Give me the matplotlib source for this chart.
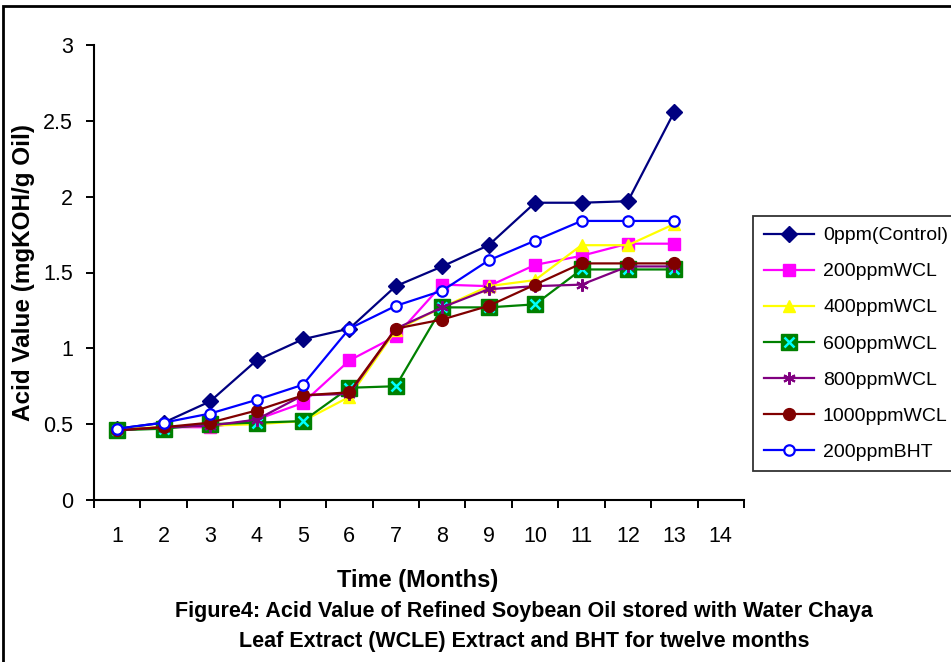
import matplotlib
matplotlib.use("Agg")
import matplotlib.pyplot as plt
from matplotlib.legend_handler import HandlerTuple
from matplotlib.patches import Rectangle

plt.rcParams['font.family'] = ['Liberation Sans', 'DejaVu Sans']

months = [1, 2, 3, 4, 5, 6, 7, 8, 9, 10, 11, 12, 13]
tick_labels = [str(i) for i in range(1, 15)]

ctrl_0ppm = [0.47, 0.51, 0.65, 0.92, 1.06, 1.13, 1.41, 1.54, 1.68, 1.96, 1.96, 1.97, 2.56]
wcl_200 = [0.46, 0.48, 0.48, 0.53, 0.64, 0.92, 1.08, 1.42, 1.41, 1.55, 1.61, 1.69, 1.69]
wcl_400 = [0.47, 0.48, 0.49, 0.50, 0.52, 0.68, 1.12, 1.27, 1.41, 1.45, 1.68, 1.68, 1.82]
wcl_600 = [0.46, 0.47, 0.50, 0.51, 0.52, 0.74, 0.75, 1.27, 1.27, 1.29, 1.52, 1.52, 1.52]
wcl_800 = [0.46, 0.48, 0.49, 0.53, 0.69, 0.70, 1.13, 1.27, 1.39, 1.41, 1.42, 1.54, 1.54]
wcl_1000 = [0.46, 0.48, 0.51, 0.59, 0.69, 0.71, 1.13, 1.19, 1.28, 1.42, 1.56, 1.56, 1.56]
bht_200 = [0.47, 0.51, 0.57, 0.66, 0.76, 1.13, 1.28, 1.38, 1.58, 1.71, 1.84, 1.84, 1.84]

series_names = ['0ppm(Control)', '200ppmWCL', '400ppmWCL', '600ppmWCL',
                '800ppmWCL', '1000ppmWCL', '200ppmBHT']

fig = plt.figure(figsize=(9.51, 6.62), dpi=100)
ax = fig.add_axes([94/951, 1 - 500/662, 650/951, 455/662])

lw = 1.6
handles = []
h, = ax.plot(months, ctrl_0ppm, color='#000080', lw=lw, marker='D', ms=8,
             mfc='#000080', mec='#000080', zorder=3)
handles.append(h)
h, = ax.plot(months, wcl_200, color='#FF00FF', lw=lw, marker='s', ms=8,
             mfc='#FF00FF', mec='#FF00FF', zorder=3)
handles.append(h)
h, = ax.plot(months, wcl_400, color='#FFFF00', lw=lw, marker='^', ms=9,
             mfc='#FFFF00', mec='#FFFF00', zorder=3)
handles.append(h)
h1, = ax.plot(months, wcl_600, color='#008000', lw=lw, marker='s', ms=11.5,
              mfc='#008000', mec='#008000', zorder=3)
h2, = ax.plot(months, wcl_600, ls='none', marker='x', ms=7, mew=1.8,
              color='#00FFFF', zorder=3)
handles.append((h1, h2))
h, = ax.plot(months, wcl_800, color='#800080', lw=lw, marker=(6, 2, 0), ms=9,
             mew=1.5, mec='#800080', zorder=3)
handles.append(h)
h, = ax.plot(months, wcl_1000, color='#800000', lw=lw, marker='o', ms=8.5,
             mfc='#800000', mec='#800000', zorder=3)
handles.append(h)
h, = ax.plot(months, bht_200, color='#0000FF', lw=lw, marker='o', ms=7.5,
             mfc='white', mec='#0000FF', mew=1.6, zorder=3)
handles.append(h)

ax.set_xlim(0.5, 14.5)
ax.set_ylim(0, 3)
ax.set_yticks([0, 0.5, 1, 1.5, 2, 2.5, 3])
ax.set_yticklabels(['0', '0.5', '1', '1.5', '2', '2.5', '3'])
ax.set_xticks(range(1, 15))
ax.set_xticklabels(tick_labels)
ax.set_xticks([i + 0.5 for i in range(0, 15)], minor=True)
ax.tick_params(axis='x', which='major', length=0, pad=19, labelsize=15.5)
ax.tick_params(axis='x', which='minor', length=6, width=1.4, direction='out')
ax.tick_params(axis='y', which='major', length=6, width=1.4, direction='out',
               pad=9, labelsize=15.5)
for s in ['top', 'right']:
    ax.spines[s].set_visible(False)
for s in ['left', 'bottom']:
    ax.spines[s].set_linewidth(1.5)

fig.text(24/951, 1 - 273/662, 'Acid Value (mgKOH/g Oil)', rotation=90,
         fontsize=17.5, fontweight='bold', ha='center', va='center')

fig.text(418/951, 1 - 580/662, 'Time (Months)', fontsize=17,
         fontweight='bold', ha='center', va='center')
fig.text(524/951, 1 - 611/662,
         'Figure4: Acid Value of Refined Soybean Oil stored with Water Chaya',
         fontsize=15.5, fontweight='bold', ha='center', va='center')
fig.text(524/951, 1 - 641/662,
         'Leaf Extract (WCLE) Extract and BHT for twelve months',
         fontsize=15.5, fontweight='bold', ha='center', va='center')

leg = fig.legend(handles, series_names, loc='upper left',
                 bbox_to_anchor=(753/951, 1 - 216/662), borderaxespad=0,
                 frameon=True, fancybox=False, edgecolor='black',
                 fontsize=14, handlelength=2.6, labelspacing=0.95,
                 handletextpad=0.45, borderpad=0.55,
                 handler_map={tuple: HandlerTuple(ndivide=1, pad=0)})
leg.get_frame().set_linewidth(1.3)

border = Rectangle((3/951, -0.1), 1.2, (1 - 6/662) + 0.1,
                   transform=fig.transFigure, fill=False, edgecolor='black',
                   lw=2, clip_on=False)
fig.patches.append(border)

fig.savefig('out.png', dpi=100)
